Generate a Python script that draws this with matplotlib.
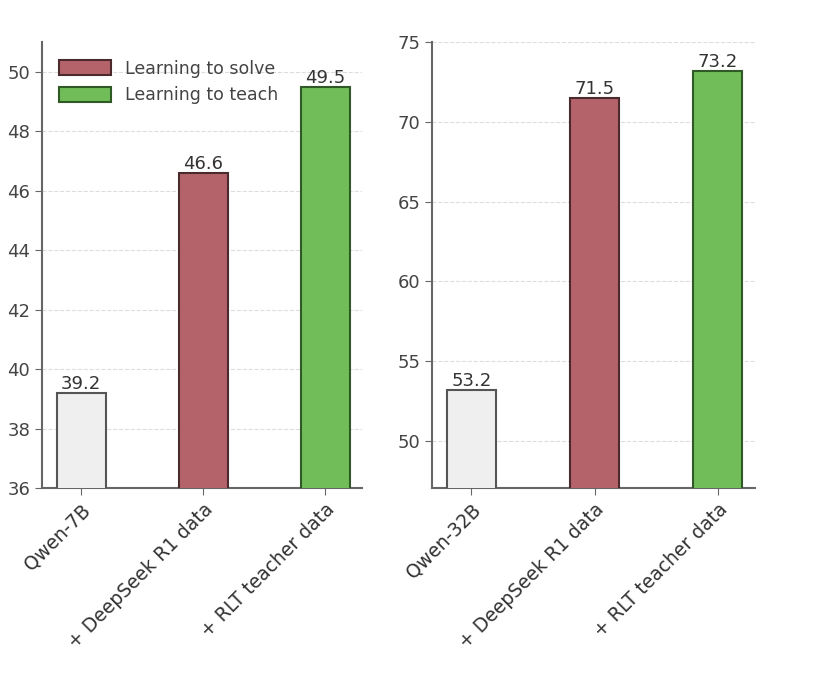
import matplotlib
matplotlib.use("Agg")
import matplotlib.pyplot as plt

# values
labels_7b = ["Qwen-7B", "+ DeepSeek R1 data", "+ RLT teacher data"]
labels_32b = ["Qwen-32B", "+ DeepSeek R1 data", "+ RLT teacher data"]
scores_7b = [39.2, 46.6, 49.5]
scores_32b = [53.2, 71.5, 73.2]

bar_colors = ["#efefef", "#b5636a", "#70bd5a"]
edge_colors = ["#555555", "#4a2a2c", "#2f5a25"]


def draw_panel(ax, labels, scores, ylim, yticks):
    x = list(range(len(scores)))
    bars = ax.bar(x, scores, width=0.4, color=bar_colors,
                  edgecolor=edge_colors, linewidth=1.5, zorder=3)
    for b, v in zip(bars, scores):
        ax.text(b.get_x() + b.get_width() / 2, v, f"{v:.1f}",
                ha="center", va="bottom", fontsize=13, color="#333333")
    ax.set_xticks(x)
    ax.set_xticklabels(labels, rotation=45, ha="right",
                       rotation_mode="anchor", fontsize=13.5, color="#333333")
    ax.set_xlim(-0.32, 2.3)
    ax.set_ylim(*ylim)
    ax.set_yticks(yticks)
    ax.tick_params(axis="y", labelsize=13, colors="#444444")
    ax.tick_params(axis="both", direction="out", length=5, color="#666666")
    ax.yaxis.grid(True, linestyle="--", color="#dddddd", zorder=0)
    for s in ["top", "right"]:
        ax.spines[s].set_visible(False)
    for s in ["left", "bottom"]:
        ax.spines[s].set_color("#666666")
        ax.spines[s].set_linewidth(1.5)
    return bars


fig = plt.figure(figsize=(8.23, 6.82), dpi=100)
ax1 = fig.add_axes([0.051, 0.284, 0.389, 0.654])
ax2 = fig.add_axes([0.525, 0.284, 0.392, 0.654])

bars1 = draw_panel(ax1, labels_7b, scores_7b, (36, 51), range(36, 51, 2))
draw_panel(ax2, labels_32b, scores_32b, (47, 75), range(50, 76, 5))

ax1.legend([bars1[1], bars1[2]], ["Learning to solve", "Learning to teach"],
           loc="upper left", frameon=False, fontsize=12.5,
           labelcolor="#444444", handlelength=3.0, handleheight=1.0,
           borderaxespad=0.6)

fig.savefig("out.png", dpi=100)
